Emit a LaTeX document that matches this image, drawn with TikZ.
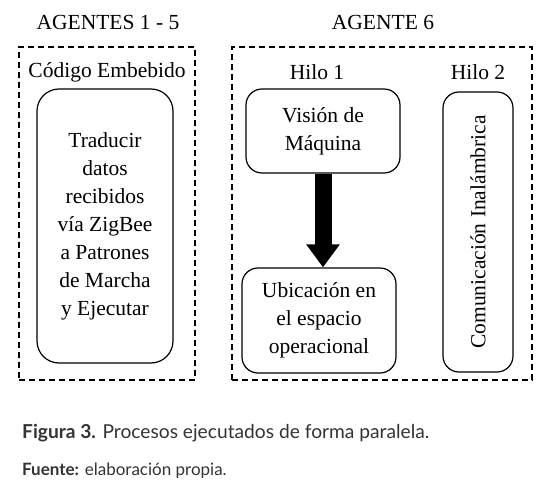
\documentclass[tikz,border=0pt]{standalone}
\usepackage{fontspec}
\setmainfont{Liberation Serif}
\newfontfamily\capfont{Lato}
\usepackage{tikz}
\usetikzlibrary{arrows.meta, positioning, calc}
\usepackage{xcolor}
\definecolor{captext}{HTML}{333333}

\tikzset{
  agentbox/.style={draw, dashed, dash pattern=on 6pt off 4pt, line width=1.3pt, inner sep=0pt},
  procbox/.style={draw, line width=1.2pt, rounded corners=16pt, align=center, inner sep=0pt},
  heading/.style={font=\fontsize{21.5}{28}\selectfont},
  bigarrow/.style={-{Triangle[width=32pt, length=23pt]}, line width=17pt}
}

\begin{document}
\begin{tikzpicture}[x=1pt, y=-1pt, every node/.style={font=\fontsize{21.5}{28}\selectfont}]
  \useasboundingbox (0,0) rectangle (560,492);
  % agent frames
  \node[agentbox, minimum width=176pt, minimum height=333pt] (agentes) at (107, 213.5) {};
  \node[agentbox, minimum width=300pt, minimum height=333pt] (agente) at (382, 213.5) {};
  \node[heading] (tagentes) at (108, 22) {AGENTES 1 - 5};
  \node[heading] (tagente) at (383, 22) {AGENTE 6};
  \node[heading] (codigo) at (107, 72) {Código Embebido};
  \node[heading] (hiloa) at (317, 72) {Hilo 1};
  \node[heading] (hilob) at (478, 72) {Hilo 2};

  % processes
  \node[procbox, rounded corners=22pt, minimum width=136pt, minimum height=274pt] (traducir) at (105, 226)
    {Traducir\\datos\\recibidos\\vía ZigBee\\a Patrones\\de Marcha\\y Ejecutar};
  \node[procbox, minimum width=154pt, minimum height=84pt] (vision) at (323, 131) {Visión de\\Máquina};
  \node[procbox, minimum width=154pt, minimum height=105pt] (ubicacion) at (319, 320.5)
    {Ubicación en\\el espacio\\operacional};
  \node[procbox, minimum width=70pt, minimum height=280pt] (comunicacion) at (478, 232) {};
  \node[rotate=90] (tcomunicacion) at (comunicacion.center) {Comunicación Inalámbrica};

  \draw[bigarrow] (vision.south) -- (vision.south |- ubicacion.north);

  % caption
  \node[anchor=west, inner sep=0pt, text=captext, font=\capfont\fontsize{19.2}{22}\selectfont] (figura) at (22, 433)
    {\textbf{Figura 3.} Procesos ejecutados de forma paralela.};
  \node[anchor=west, inner sep=0pt, text=captext, font=\capfont\fontsize{17}{20}\selectfont] (fuente) at (22, 471)
    {\textbf{Fuente:} elaboración propia.};
\end{tikzpicture}
\end{document}
